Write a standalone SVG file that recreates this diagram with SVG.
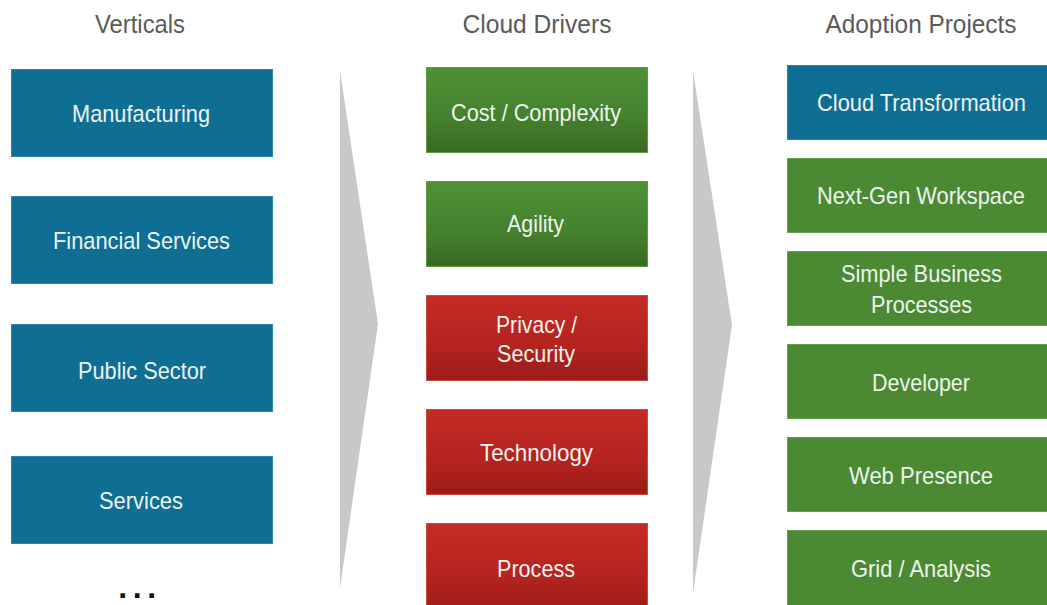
<svg xmlns="http://www.w3.org/2000/svg" width="1047" height="605" viewBox="0 0 1047 605">
<style>
.hdr{font-family:"Liberation Sans",Arial,sans-serif;font-size:26px;fill:#5a5a5a;text-anchor:middle}
.lbl{font-family:"Liberation Sans",Arial,sans-serif;font-size:24px;fill:#eef3ef;text-anchor:middle}
.blue{fill:#0f6e93;stroke:#2a86a8;stroke-width:1}
.green{fill:url(#gGreen);stroke:#5c9a44;stroke-width:1}
.green2{fill:#4b8a33;stroke:#63a04a;stroke-width:1}
.red{fill:url(#gRed);stroke:#c84a40;stroke-width:1}
.arrow{fill:#c8c8c8}
</style>
<defs>
<linearGradient id="gGreen" x1="0" y1="0" x2="0" y2="1">
<stop offset="0" stop-color="#4f9136"/>
<stop offset="0.6" stop-color="#45802d"/>
<stop offset="1" stop-color="#386a22"/>
</linearGradient>
<linearGradient id="gRed" x1="0" y1="0" x2="0" y2="1">
<stop offset="0" stop-color="#c52b25"/>
<stop offset="0.6" stop-color="#b4231f"/>
<stop offset="1" stop-color="#9a1c19"/>
</linearGradient>
</defs>
<rect width="1047" height="605" fill="#ffffff"/>

<g id="headers">
<text class="hdr" x="140" y="33" textLength="90" lengthAdjust="spacingAndGlyphs">Verticals</text>
<text class="hdr" x="537" y="33" textLength="149" lengthAdjust="spacingAndGlyphs">Cloud Drivers</text>
<text class="hdr" x="921" y="33" textLength="191" lengthAdjust="spacingAndGlyphs">Adoption Projects</text>
</g>

<g id="connectors">
<polygon class="arrow" points="340,71 378,324 340,588"/>
<polygon class="arrow" points="693,71 732,325 693,593"/>
</g>

<g id="manufacturing">
<rect class="blue" x="11.5" y="69.5" width="261" height="87"/>
<text class="lbl" x="141" y="122" textLength="138" lengthAdjust="spacingAndGlyphs">Manufacturing</text>
</g>
<g id="financial-services">
<rect class="blue" x="11.5" y="196.5" width="261" height="87"/>
<text class="lbl" x="141.5" y="249" textLength="177" lengthAdjust="spacingAndGlyphs">Financial Services</text>
</g>
<g id="public-sector">
<rect class="blue" x="11.5" y="324.5" width="261" height="87"/>
<text class="lbl" x="142" y="379" textLength="128" lengthAdjust="spacingAndGlyphs">Public Sector</text>
</g>
<g id="services">
<rect class="blue" x="11.5" y="456.5" width="261" height="87"/>
<text class="lbl" x="141" y="509" textLength="84" lengthAdjust="spacingAndGlyphs">Services</text>
</g>
<g id="more">
<text x="140" y="598" font-family="Liberation Sans,Arial,sans-serif" font-size="32" font-weight="bold" fill="#111" text-anchor="middle" letter-spacing="5.6">...</text>
</g>

<g id="cost-complexity">
<rect class="green" x="426.5" y="67.5" width="221" height="85"/>
<text class="lbl" x="536" y="121" textLength="170" lengthAdjust="spacingAndGlyphs">Cost / Complexity</text>
</g>
<g id="agility">
<rect class="green" x="426.5" y="181.5" width="221" height="85"/>
<text class="lbl" x="535.5" y="232" textLength="57" lengthAdjust="spacingAndGlyphs">Agility</text>
</g>
<g id="privacy-security">
<rect class="red" x="426.5" y="295.5" width="221" height="85"/>
<text class="lbl" x="536.5" y="333" textLength="81" lengthAdjust="spacingAndGlyphs">Privacy /</text>
<text class="lbl" x="536" y="362" textLength="78" lengthAdjust="spacingAndGlyphs">Security</text>
</g>
<g id="technology">
<rect class="red" x="426.5" y="409.5" width="221" height="85"/>
<text class="lbl" x="536.5" y="461" textLength="113" lengthAdjust="spacingAndGlyphs">Technology</text>
</g>
<g id="process">
<rect class="red" x="426.5" y="523.5" width="221" height="90"/>
<text class="lbl" x="536" y="577" textLength="78" lengthAdjust="spacingAndGlyphs">Process</text>
</g>

<g id="cloud-transformation">
<rect class="blue" x="787.5" y="65.5" width="275" height="74"/>
<text class="lbl" x="921.5" y="111" textLength="209" lengthAdjust="spacingAndGlyphs">Cloud Transformation</text>
</g>
<g id="next-gen-workspace">
<rect class="green2" x="787.5" y="158.5" width="275" height="74"/>
<text class="lbl" x="921" y="204" textLength="208" lengthAdjust="spacingAndGlyphs">Next-Gen Workspace</text>
</g>
<g id="simple-business-processes">
<rect class="green2" x="787.5" y="251.5" width="275" height="74"/>
<text class="lbl" x="921.5" y="282" textLength="161" lengthAdjust="spacingAndGlyphs">Simple Business</text>
<text class="lbl" x="921.5" y="313" textLength="101" lengthAdjust="spacingAndGlyphs">Processes</text>
</g>
<g id="developer">
<rect class="green2" x="787.5" y="344.5" width="275" height="74"/>
<text class="lbl" x="921" y="391" textLength="98" lengthAdjust="spacingAndGlyphs">Developer</text>
</g>
<g id="web-presence">
<rect class="green2" x="787.5" y="437.5" width="275" height="74"/>
<text class="lbl" x="921" y="484" textLength="144" lengthAdjust="spacingAndGlyphs">Web Presence</text>
</g>
<g id="grid-analysis">
<rect class="green2" x="787.5" y="530.5" width="275" height="80"/>
<text class="lbl" x="921" y="577" textLength="140" lengthAdjust="spacingAndGlyphs">Grid / Analysis</text>
</g>
</svg>
